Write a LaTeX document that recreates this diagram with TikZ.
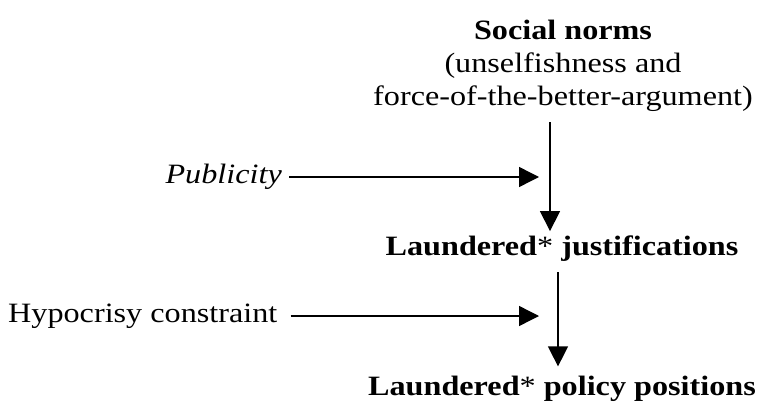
\documentclass[tikz,border=0pt]{standalone}
\usepackage{fontspec}
\setmainfont{Liberation Serif}[FakeStretch=1.15]
\usetikzlibrary{arrows.meta,positioning}

\begin{document}
\begin{tikzpicture}[x=1pt,y=-1pt]
  \tikzset{big arrow/.style={-{Triangle[length=20pt,width=20pt]},
                             line width=1.4pt}
                             }

%%%%%%%%%%%%%%%%%%%%%%%%%%%%%%%%%%%%%%%%%%%%%%%%%%%%%%%%%%%%%%%%%%%%%%%%%%%%%%

\useasboundingbox (0,0) rectangle (757,404);

%%%%%%%%%%%%%%%%%%%%%%%%%%%%%%%%%%%%%%%%%%%%%%%%%%%%%%%%%%%%%%%%%%%%%%%%%%%%%%

\node[inner sep=0pt,anchor=base,align=center,font=\fontsize{28}{33}\selectfont] (SN) at (563,105) {\textbf{Social norms}\\(unselfishness and\\force-of-the-better-argument)};

\node[inner sep=0pt,anchor=base,font=\fontsize{28}{33}\selectfont] (LJ) at (562,255) {\textbf{Laundered}* \textbf{justifications}};

\node[inner sep=0pt,anchor=base,font=\fontsize{28}{33}\selectfont] (LP) at (562,395) {\textbf{Laundered}* \textbf{policy positions}};

\node[inner sep=0pt,anchor=east,font=\fontsize{28}{33}\selectfont\itshape] (PUB) at (282,177) {Publicity};

\node[inner sep=0pt,anchor=west,font=\fontsize{28}{33}\selectfont] (HC) at (8,316) {Hypocrisy constraint};

\coordinate (PUBend) at (539,177);
\coordinate (HCend) at (539,316);

%%%%%%%%%%%%%%%%%%%%%%%%%%%%%%%%%%%%%%%%%%%%%%%%%%%%%%%%%%%%%%%%%%%%%%%%%%%%%%
\draw[big arrow, shorten <=11pt, shorten >=4pt]  ([xshift=-13pt]SN.south) -- ([xshift=-13pt]SN.south |- LJ.north);
\draw[big arrow, shorten <=11pt, shorten >=9pt]  ([xshift=-4pt]LJ.south) -- ([xshift=-4pt]LP.north);
\draw[big arrow]  ([xshift=7pt]PUB.east) -- (PUBend);
\draw[big arrow]  ([xshift=13pt]HC.east) -- (HCend);

%%%%%%%%%%%%%%%%%%%%%%%%%%%%%%%%%%%%%%%%%%%%%%%%%%%%%%%%%%%%%%%%%%%%%%%%%%%%%%

\end{tikzpicture}
\end{document}
